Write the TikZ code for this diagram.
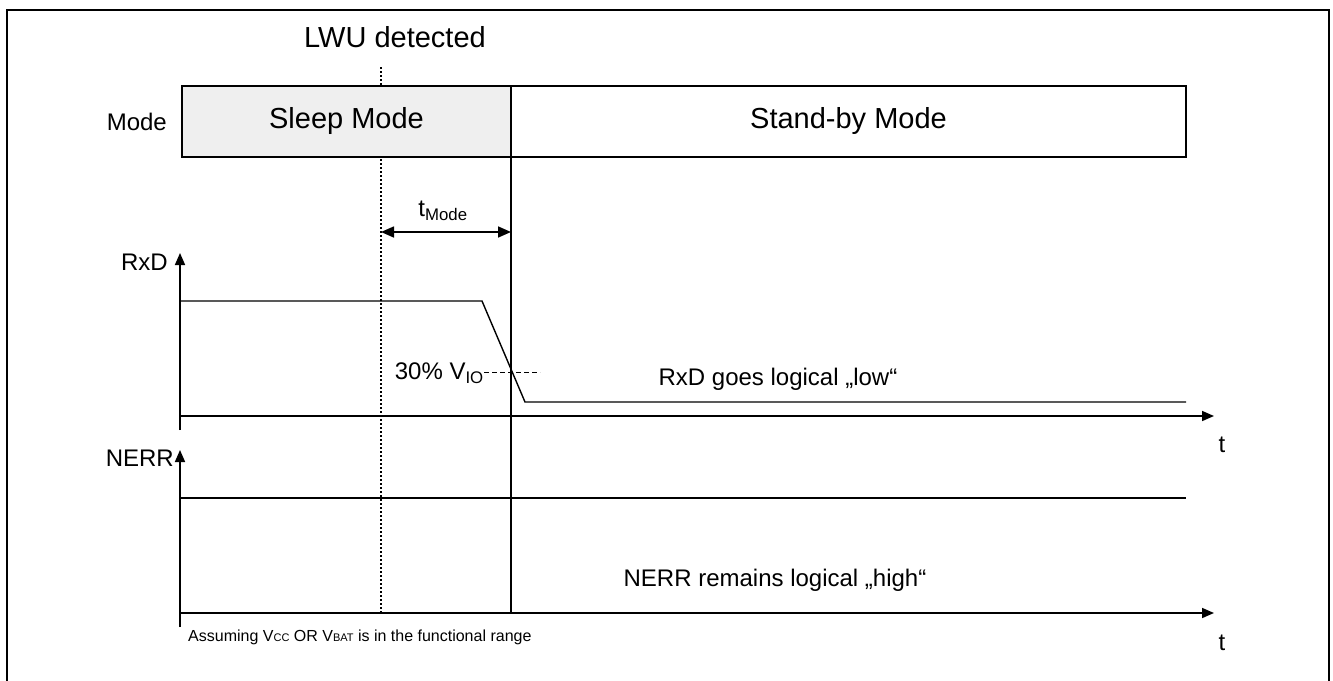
\documentclass[tikz,border=0pt]{standalone}
\usepackage{fontspec}
\setmainfont{Liberation Sans}
\usetikzlibrary{arrows.meta}
\definecolor{sleepgray}{HTML}{EFEFEF}
\tikzset{
  axis/.style={line width=1.6pt,-{Triangle[length=12pt,width=10pt]}},
  span/.style={line width=1.6pt,{Triangle[length=13pt,width=11pt]}-{Triangle[length=13pt,width=11pt]}},
  signal/.style={line width=1.4pt},
  modebox/.style={draw,line width=2pt,minimum height=71pt,inner sep=0pt,outer sep=0pt,
    font=\fontsize{29}{34}\selectfont},
  lbl/.style={inner sep=0pt,font=\fontsize{24}{28}\selectfont},
  marker/.style={line width=1.3pt,dash pattern=on 2pt off 2pt}
}
\begin{document}
\begin{tikzpicture}[x=1pt,y=-1pt]
    \useasboundingbox (0,0) rectangle (1333,680);
    %frame
    \draw[line width=1.5pt] (7,690)--(7,10)--(1329,10)--(1329,690);

    %axes
    \coordinate (rxd0) at (180,416);
    \coordinate (nerr0) at (180,613);

    %LWU detected
    \node[inner sep=0pt,font=\fontsize{29}{34}\selectfont] (lwu) at (395,37) {LWU detected};
    \coordinate (lwutop) at (381,67);
    \draw[marker] (lwutop)--(lwutop |- nerr0);

    %mode row
    \node[modebox,fill=sleepgray,minimum width=329pt] (sleep) at (346.5,121.5) {Sleep Mode};
    \node[modebox,minimum width=675pt] (standby) at (848.5,121.5) {Stand-by Mode};
    \node[lbl,anchor=east] (mode) at (167,122) {Mode};

    \draw[axis] (180,430)--(180,253) coordinate (rxdtop);
    \draw[axis] (rxd0)--(1214,416) coordinate (rxdend);
    \draw[axis] (180,627)--(180,450) coordinate (nerrtop);
    \draw[axis] (nerr0)--(1214,613) coordinate (nerrend);

    \node[lbl,anchor=east] (rxdlbl) at (168,262) {RxD};
    \node[lbl,anchor=east] (nerrlbl) at (174,458) {NERR};
    \node[lbl] (t1) at (1222,445) {t};
    \node[lbl] (t2) at (1222,643) {t};

    %mode change
    \draw[line width=1.4pt] (sleep.south east)--(sleep.south east |- nerr0);

    %t mode
    \coordinate (tm1) at (381,232);
    \draw[span] (tm1)--(tm1 -| sleep.east);
    \node[lbl] (tmode) at (443,211) {t\textsubscript{Mode}};

    %RxD
    \draw[signal] (180,301) coordinate (hi0)--(482,301) coordinate (hi1)
        --(525,402) coordinate (lo0)--(1186,402) coordinate (lo1);
    \node[lbl,anchor=east] (vio) at (484,373) {30\% V\textsubscript{IO}};
    \draw[line width=1pt,dash pattern=on 5pt off 3pt] (vio.east |- 0,372)--(540,372);
    \node[lbl] (rxdtxt) at (778,379) {RxD goes logical „low“};

    %NERR
    \draw[signal] (180,498) coordinate (nhi0)--(1186,498) coordinate (nhi1);
    \node[lbl] (nerrtxt) at (775,580) {NERR remains logical „high“};

    \node[inner sep=0pt,anchor=west,font=\fontsize{16}{19}\selectfont] (note) at (188,637)
        {Assuming V{\fontsize{11}{13}\selectfont CC} OR V{\fontsize{11}{13}\selectfont BAT} is in the functional range};
\end{tikzpicture}
\end{document}
